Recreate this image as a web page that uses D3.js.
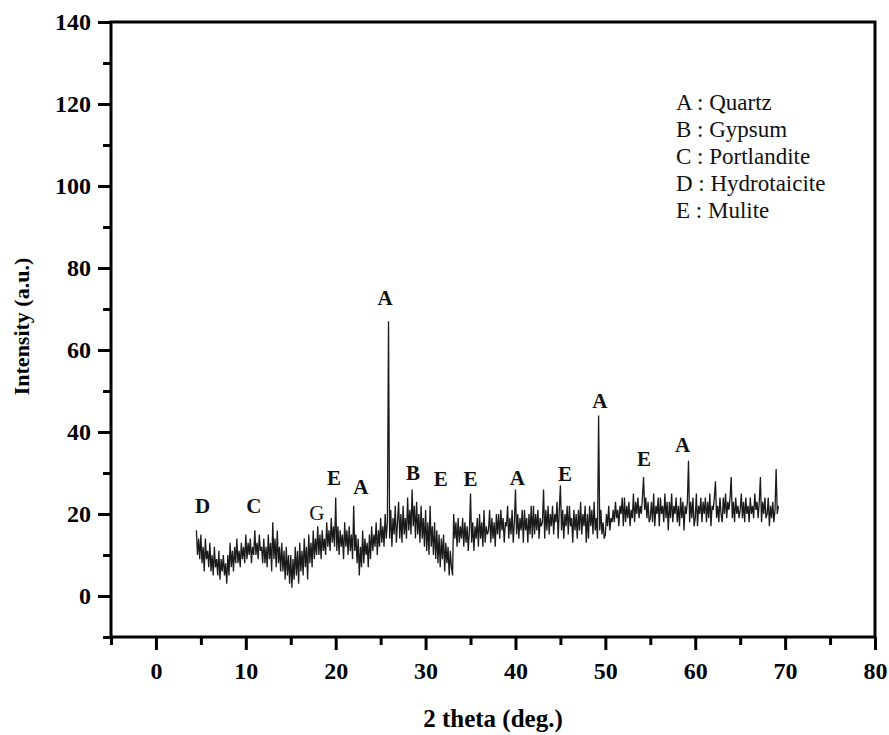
<!DOCTYPE html>
<html>
<head>
<meta charset="utf-8">
<script src="https://cdn.jsdelivr.net/npm/d3@7"></script>
<style>
  body { margin: 0; background: #fff; }
  svg text { font-family: "Liberation Serif", "Times New Roman", serif; }
</style>
</head>
<body>
<div id="chart"></div>
<script>
const WIDTH = 889
const HEIGHT = 735
const SERIF = '"Liberation Serif", "Times New Roman", serif'

// XRD scan, one reading every 0.125 deg starting at 4.5 deg (one row per degree)
const X_START = 4.5
const X_STEP = 0.125
const intensity = [
    16, 10, 14, 9,
    15, 8, 12, 6, 14, 9, 11, 7,       // 5
    13, 6, 10, 5, 12, 7, 9, 5,        // 6
    11, 4, 9, 6, 10, 5, 8, 3,         // 7
    10, 5, 13, 7, 11, 6, 12, 8,       // 8
    14, 8, 11, 7, 13, 9, 12, 8,       // 9
    15, 9, 13, 10, 14, 8, 12, 10,     // 10
    16, 10, 13, 9, 15, 11, 12, 8,     // 11
    14, 8, 12, 7, 15, 9, 13, 6,       // 12
    18, 9, 14, 7, 16, 8, 12, 6,       // 13
    13, 6, 11, 4, 12, 5, 10, 3,       // 14
    10, 2, 9, 4, 12, 5, 11, 3,        // 15
    13, 6, 11, 5, 14, 7, 12, 4,       // 16
    15, 8, 13, 7, 16, 9, 14, 10,      // 17
    17, 10, 15, 9, 16, 11, 14, 10,    // 18
    18, 12, 16, 11, 19, 13, 17, 12,   // 19
    24, 11, 17, 10, 16, 12, 15, 9,    // 20
    18, 12, 16, 10, 17, 11, 15, 9,    // 21
    22, 11, 15, 8, 14, 5, 12, 7,      // 22
    16, 8, 14, 10, 13, 7, 15, 9,      // 23
    17, 11, 15, 12, 18, 10, 16, 12,   // 24
    19, 13, 17, 12, 20, 14, 18, 67,   // 25
    14, 21, 12, 19, 15, 22, 13, 18,   // 26
    23, 14, 20, 13, 22, 15, 19, 14,   // 27
    24, 16, 21, 15, 26, 17, 22, 14,   // 28
    23, 15, 20, 13, 22, 14, 19, 12,   // 29
    21, 11, 18, 10, 22, 12, 17, 10,   // 30
    18, 9, 16, 8, 15, 7, 14, 9,       // 31
    15, 6, 13, 8, 12, 5, 11, 7,       // 32
    5, 20, 14, 18, 12, 19, 13, 17,    // 33
    14, 19, 12, 18, 13, 17, 11, 16,   // 34
    25, 13, 18, 11, 17, 14, 19, 12,   // 35
    20, 14, 18, 12, 21, 13, 17, 15,   // 36
    16, 21, 13, 19, 14, 18, 12, 20,   // 37
    15, 20, 14, 21, 16, 19, 13, 18,   // 38
    17, 22, 14, 19, 15, 21, 13, 18,   // 39
    26, 15, 20, 14, 19, 16, 21, 13,   // 40
    21, 16, 19, 13, 20, 15, 22, 14,   // 41
    22, 15, 20, 16, 21, 14, 19, 17,   // 42
    18, 26, 14, 21, 16, 22, 15, 20,   // 43
    17, 22, 15, 20, 18, 23, 14, 21,   // 44
    27, 16, 21, 14, 20, 17, 22, 15,   // 45
    22, 17, 19, 13, 21, 16, 20, 14,   // 46
    21, 16, 23, 15, 20, 17, 22, 13,   // 47
    20, 14, 22, 17, 21, 15, 23, 16,   // 48
    19, 14, 44, 16, 21, 15, 18, 14,   // 49
    15, 20, 17, 22, 16, 19, 18, 21,   // 50
    18, 23, 19, 21, 17, 22, 20, 24,   // 51
    17, 24, 18, 22, 19, 23, 17, 21,   // 52
    19, 25, 18, 23, 20, 24, 19, 22,   // 53
    20, 24, 29, 21, 24, 19, 23, 18,   // 54
    19, 23, 18, 25, 17, 22, 20, 24,   // 55
    17, 24, 20, 22, 18, 25, 19, 23,   // 56
    16, 23, 19, 25, 18, 22, 20, 24,   // 57
    18, 22, 17, 24, 19, 23, 16, 22,   // 58
    20, 23, 33, 18, 23, 19, 24, 17,   // 59
    19, 25, 17, 22, 20, 24, 18, 23,   // 60
    20, 24, 18, 23, 19, 25, 17, 22,   // 61
    21, 24, 28, 19, 22, 18, 24, 20,   // 62
    18, 24, 20, 25, 19, 23, 21, 24,   // 63
    29, 19, 23, 18, 24, 20, 22, 19,   // 64
    21, 25, 19, 23, 18, 24, 20, 22,   // 65
    18, 24, 20, 22, 19, 25, 21, 23,   // 66
    19, 23, 29, 18, 23, 20, 24, 19,   // 67
    20, 24, 17, 22, 19, 23, 18, 21,   // 68
    31, 20, 22
]

const xTicks = [0, 10, 20, 30, 40, 50, 60, 70, 80]
const xMinorTicks = [-5, 5, 15, 25, 35, 45, 55, 65, 75]
const yTicks = [0, 20, 40, 60, 80, 100, 120, 140]
const yMinorTicks = [-10, 10, 30, 50, 70, 90, 110, 130]

const peakLetters = ['D', 'C', 'G', 'E', 'A', 'A', 'B', 'E', 'E', 'A', 'E', 'A', 'E', 'A']
const peakAngles = [5.2, 10.9, 17.9, 19.8, 22.8, 25.5, 28.6, 31.7, 35.0, 40.2, 45.5, 49.4, 54.3, 58.6]
const peakHeights = [20.2, 20.2, 18.5, 27.1, 24.9, 71.0, 28.3, 26.8, 26.8, 27.1, 28.0, 45.9, 31.7, 35.1]

const legendLines = ['A : Quartz', 'B : Gypsum', 'C : Portlandite', 'D : Hydrotaicite', 'E : Mulite']

const margin = {top: 22, right: 14, bottom: 98, left: 111}

const svg = d3.select('#chart').append('svg').attr('width', WIDTH).attr('height', HEIGHT)

const x = d3.scaleLinear().domain([-5, 80]).range([margin.left, WIDTH - margin.right])
const y = d3.scaleLinear().domain([-10, 140]).range([HEIGHT - margin.bottom, margin.top])

const data = intensity.map((v, i) => ({angle: X_START + i * X_STEP, value: v}))

// trace
const line = d3.line().x(d => x(d.angle)).y(d => y(d.value))
svg.append('path')
    .datum(data)
    .attr('d', line)
    .attr('fill', 'none')
    .attr('stroke', '#1a1a1a')
    .attr('stroke-width', 1.3)

// axes
function styleAxis(g){
    g.select('.domain').remove()
    g.selectAll('line').attr('stroke', '#000').attr('stroke-width', 3)
    g.selectAll('text')
        .attr('fill', '#000')
        .style('font-family', SERIF)
        .style('font-weight', 'bold')
        .style('font-size', '24px')
}

svg.append('g')
    .attr('transform', `translate(0,${y(-10)})`)
    .call(d3.axisBottom(x).tickValues(xMinorTicks).tickSize(8).tickFormat(''))
    .call(styleAxis)
svg.append('g')
    .attr('transform', `translate(0,${y(-10)})`)
    .call(d3.axisBottom(x).tickValues(xTicks).tickSize(13).tickPadding(12).tickFormat(d3.format('d')))
    .call(styleAxis)

svg.append('g')
    .attr('transform', `translate(${x(-5)},0)`)
    .call(d3.axisLeft(y).tickValues(yMinorTicks).tickSize(8).tickFormat(''))
    .call(styleAxis)
svg.append('g')
    .attr('transform', `translate(${x(-5)},0)`)
    .call(d3.axisLeft(y).tickValues(yTicks).tickSize(13).tickPadding(7).tickFormat(d3.format('d')))
    .call(styleAxis)

// frame
svg.append('rect')
    .attr('x', x(-5))
    .attr('y', y(140))
    .attr('width', x(80) - x(-5))
    .attr('height', y(-10) - y(140))
    .attr('fill', 'none')
    .attr('stroke', '#000')
    .attr('stroke-width', 3)

// axis titles
svg.append('text')
    .attr('x', 493)
    .attr('y', 727)
    .attr('text-anchor', 'middle')
    .style('font-family', SERIF)
    .style('font-weight', 'bold')
    .style('font-size', '25px')
    .text('2 theta (deg.)')

svg.append('text')
    .attr('transform', `translate(29,${(y(-10) + y(140)) / 2 - 3}) rotate(-90)`)
    .attr('text-anchor', 'middle')
    .style('font-family', SERIF)
    .style('font-weight', 'bold')
    .style('font-size', '22px')
    .text('Intensity (a.u.)')

// peak letters
svg.append('g').selectAll('text')
    .data(peakLetters)
    .enter()
    .append('text')
    .attr('x', (d, i) => x(peakAngles[i]))
    .attr('y', (d, i) => y(peakHeights[i]))
    .attr('text-anchor', 'middle')
    .style('font-family', SERIF)
    .style('font-weight', d => d === 'G' ? 'normal' : 'bold')
    .style('font-size', '21px')
    .attr('fill', '#111')
    .text(d => d)

// legend
svg.append('g').selectAll('text')
    .data(legendLines)
    .enter()
    .append('text')
    .attr('x', 676)
    .attr('y', (d, i) => 110 + i * 27)
    .style('font-family', SERIF)
    .style('font-size', '23px')
    .attr('fill', '#111')
    .text(d => d)
</script>
</body>
</html>
